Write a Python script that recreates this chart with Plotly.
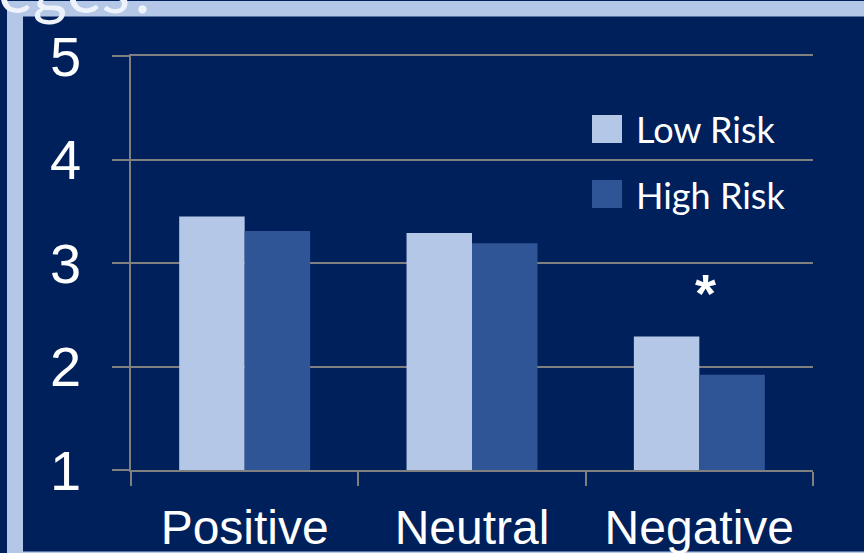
import plotly.graph_objects as go

categories = ["Positive", "Neutral", "Negative"]
series_names = ["Low Risk", "High Risk"]
low_risk = [3.45, 3.29, 2.29]
high_risk = [3.31, 3.19, 1.92]
y_ticks = [1, 2, 3, 4, 5]
title_fragment = "eges?"
sig_marker = "*"

NAVY = "#00205B"
BAND = "#B4C7E7"
LOW = "#B4C7E7"
HIGH = "#2F5597"
GRID = "#808080"

W, H = 864, 553
L, R, T, B = 131, 51, 56, 83
pw, ph = W - L - R, H - T - B


def px_x(x):
    return (x - L) / pw


def px_y(y):
    return (H - B - y) / ph


fig = go.Figure()
fig.add_trace(go.Bar(x=categories, y=low_risk, name=series_names[0],
                     marker=dict(color=LOW, line=dict(width=0)), base=0))
fig.add_trace(go.Bar(x=categories, y=high_risk, name=series_names[1],
                     marker=dict(color=HIGH, line=dict(width=0)), base=0))

shapes = [
    # slide frame bands
    dict(type="rect", xref="paper", yref="paper", layer="below",
         x0=px_x(7), x1=px_x(23), y0=px_y(553), y1=px_y(1),
         fillcolor=BAND, line=dict(width=0)),
    dict(type="rect", xref="paper", yref="paper", layer="below",
         x0=px_x(7), x1=px_x(864), y0=px_y(16.5), y1=px_y(1),
         fillcolor=BAND, line=dict(width=0)),
    dict(type="rect", xref="paper", yref="paper", layer="below",
         x0=px_x(23), x1=px_x(864), y0=px_y(553), y1=px_y(551.5),
         fillcolor=BAND, line=dict(width=0)),
    # legend swatches
    dict(type="rect", xref="paper", yref="paper",
         x0=px_x(592), x1=px_x(622), y0=px_y(143), y1=px_y(115),
         fillcolor=LOW, line=dict(width=0)),
    dict(type="rect", xref="paper", yref="paper",
         x0=px_x(592), x1=px_x(622), y0=px_y(208), y1=px_y(180),
         fillcolor=HIGH, line=dict(width=0)),
]

annotations = [
    dict(text=series_names[0], xref="paper", yref="paper", x=px_x(634), y=px_y(129),
         xanchor="left", yanchor="middle", showarrow=False,
         font=dict(family="Lato", size=36, color="white")),
    dict(text=series_names[1], xref="paper", yref="paper", x=px_x(634), y=px_y(195),
         xanchor="left", yanchor="middle", showarrow=False,
         font=dict(family="Lato", size=36, color="white")),
    dict(text="<b>" + sig_marker + "</b>", x=categories[2], y=2.71, xref="x", yref="y",
         xshift=6, showarrow=False, yanchor="middle",
         font=dict(family="Liberation Sans", size=54, color="white")),
    dict(text=title_fragment, xref="paper", yref="paper", x=px_x(-4), y=px_y(-12),
         xanchor="left", yanchor="middle", showarrow=False,
         font=dict(family="Lato", size=66, color="#EEF2FA")),
]

fig.update_layout(
    width=W, height=H,
    margin=dict(l=L, r=R, t=T, b=B, pad=0, autoexpand=False),
    paper_bgcolor=NAVY, plot_bgcolor=NAVY,
    barmode="group", bargap=0.424, bargroupgap=0,
    showlegend=False,
    shapes=shapes, annotations=annotations,
    xaxis=dict(
        automargin=False,
        showgrid=False, showline=True, linecolor=GRID, linewidth=1.5, mirror=True,
        ticks="outside", tickson="boundaries", ticklen=14, tickwidth=1.5, tickcolor=GRID,
        tickfont=dict(family="Liberation Sans", size=48, color="white"),
        ticklabelstandoff=15,
    ),
    yaxis=dict(
        automargin=False,
        range=[1, 5], tickvals=y_ticks, showgrid=True, gridcolor=GRID, gridwidth=1.5,
        showline=True, linecolor=GRID, linewidth=1.5, zeroline=False,
        ticks="outside", ticklen=17, tickwidth=1.5, tickcolor=GRID,
        tickfont=dict(family="Liberation Sans", size=56, color="white"),
        ticklabelstandoff=20,
    ),
)

fig.write_html("out.html")
